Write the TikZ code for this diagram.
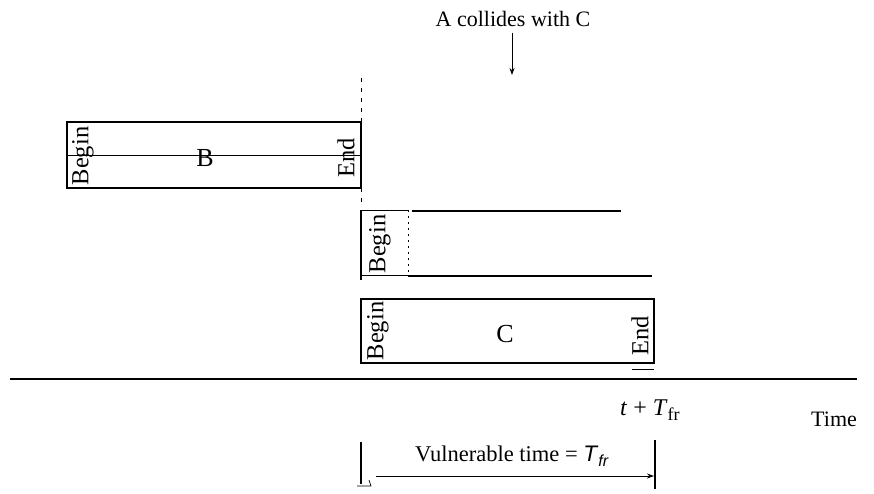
\documentclass[tikz,border=0pt]{standalone}
\usepackage{fontspec}
\setmainfont{Liberation Serif}
\setsansfont{Liberation Sans}
\usetikzlibrary{arrows.meta}
\begin{document}
\begin{tikzpicture}[x=1pt,y=-1pt,
  frame/.style={draw, line width=1.2pt, inner sep=0pt},
  lbl/.style={inner sep=0pt, font=\fontsize{24.5}{27}\selectfont},
  big/.style={inner sep=0pt, font=\fontsize{26}{30}\selectfont},
  txt/.style={inner sep=0pt, font=\fontsize{22}{26}\selectfont},
  ln/.style={line width=1.2pt},
  arr/.style={line width=0.9pt, -{Stealth[length=7pt,width=5pt]}}]
\useasboundingbox (0,0) rectangle (874,494);

% collision annotation
\node[txt] (coll) at (513,19) {A collides with C};
\coordinate (collS) at (512,33);
\coordinate (collE) at (512,75);
\draw[arr] (collS) -- (collE);

% dashed reference line at start of C
\coordinate (dashT) at (361,78);
\coordinate (dashB) at (361,205);
\draw[line width=0.6pt, dashed, dash pattern=on 4pt off 6pt] (dashT) -- (dashB);

% frame B
\node[frame, minimum width=294pt, minimum height=66pt] (B) at (214,155) {};
\draw[line width=0.8pt] (B.west) -- (B.east);
\node[lbl, rotate=90] (Bbeg) at (83,156) {Begin};
\node[big] (Blab) at (205,158) {B};
\node[lbl, rotate=90] (Bend) at (346,158) {End};

% frame A (partial)
\coordinate (AbegTL) at (361,210);
\coordinate (AbegBL) at (361,280);
\coordinate (AbegTR) at (408,210);
\coordinate (AbegBR) at (408,275);
\coordinate (AbegBL2) at (361,275);
\draw[ln] (AbegTL) -- (AbegBL);
\draw[line width=0.7pt] (AbegTL) -- (AbegTR);
\draw[line width=0.7pt] (AbegBL2) -- (AbegBR);
\draw[line width=0.5pt, dashed, dash pattern=on 2pt off 4pt] (AbegTR) -- (AbegBR);
\node[lbl, rotate=90] (Abegt) at (380,244) {Begin};
\coordinate (AtopL) at (412,211);
\coordinate (AtopR) at (621,211);
\coordinate (AbotL) at (408,276);
\coordinate (AbotR) at (652,276);
\draw[ln] (AtopL) -- (AtopR);
\draw[ln] (AbotL) -- (AbotR);

% frame C
\node[frame, minimum width=293pt, minimum height=64pt] (C) at (507.5,331) {};
\node[lbl, rotate=90] (Cbeg) at (378,331) {Begin};
\node[big] (Clab) at (505,334) {C};
\node[lbl, rotate=90] (Cend) at (640,336) {End};
\coordinate (CstepL) at (632,369);
\coordinate (CstepR) at (654,369);
\draw[line width=0.7pt] (CstepL) -- (CstepR);

% time axis
\coordinate (axL) at (10,379);
\coordinate (axR) at (857,379);
\draw[ln] (axL) -- (axR);
\node[anchor=base west, inner sep=0pt, font=\fontsize{24}{28}\selectfont] (tT) at (620,415) {\textit{t} + \textit{T}\raisebox{-0.5ex}{\fontsize{18}{20}\selectfont fr}};
\node[txt, anchor=base west] (time) at (811,426) {Time};

% vulnerable time
\coordinate (vlT) at (361,442);
\coordinate (vlB) at (361,484);
\coordinate (vrT) at (655,440);
\coordinate (vrB) at (655,489);
\draw[line width=1.5pt] (vlT) -- (vlB);
\draw[line width=1.5pt] (vrT) -- (vrB);
\coordinate (tickA) at (357,486);
\coordinate (tickB) at (371,486);
\coordinate (tickC) at (369,480);
\draw[line width=0.7pt] (tickA) -- (tickB) -- (tickC);
\coordinate (vaS) at (376,476);
\coordinate (vaE) at (654,476);
\draw[arr] (vaS) -- (vaE);
\node[anchor=base, inner sep=0pt, font=\fontsize{22.5}{26}\selectfont] (vt) at (512,461) {Vulnerable time = \textsf{\textit{T}\raisebox{-0.45ex}{\fontsize{16}{18}\selectfont\textit{fr}}}};
\end{tikzpicture}
\end{document}
